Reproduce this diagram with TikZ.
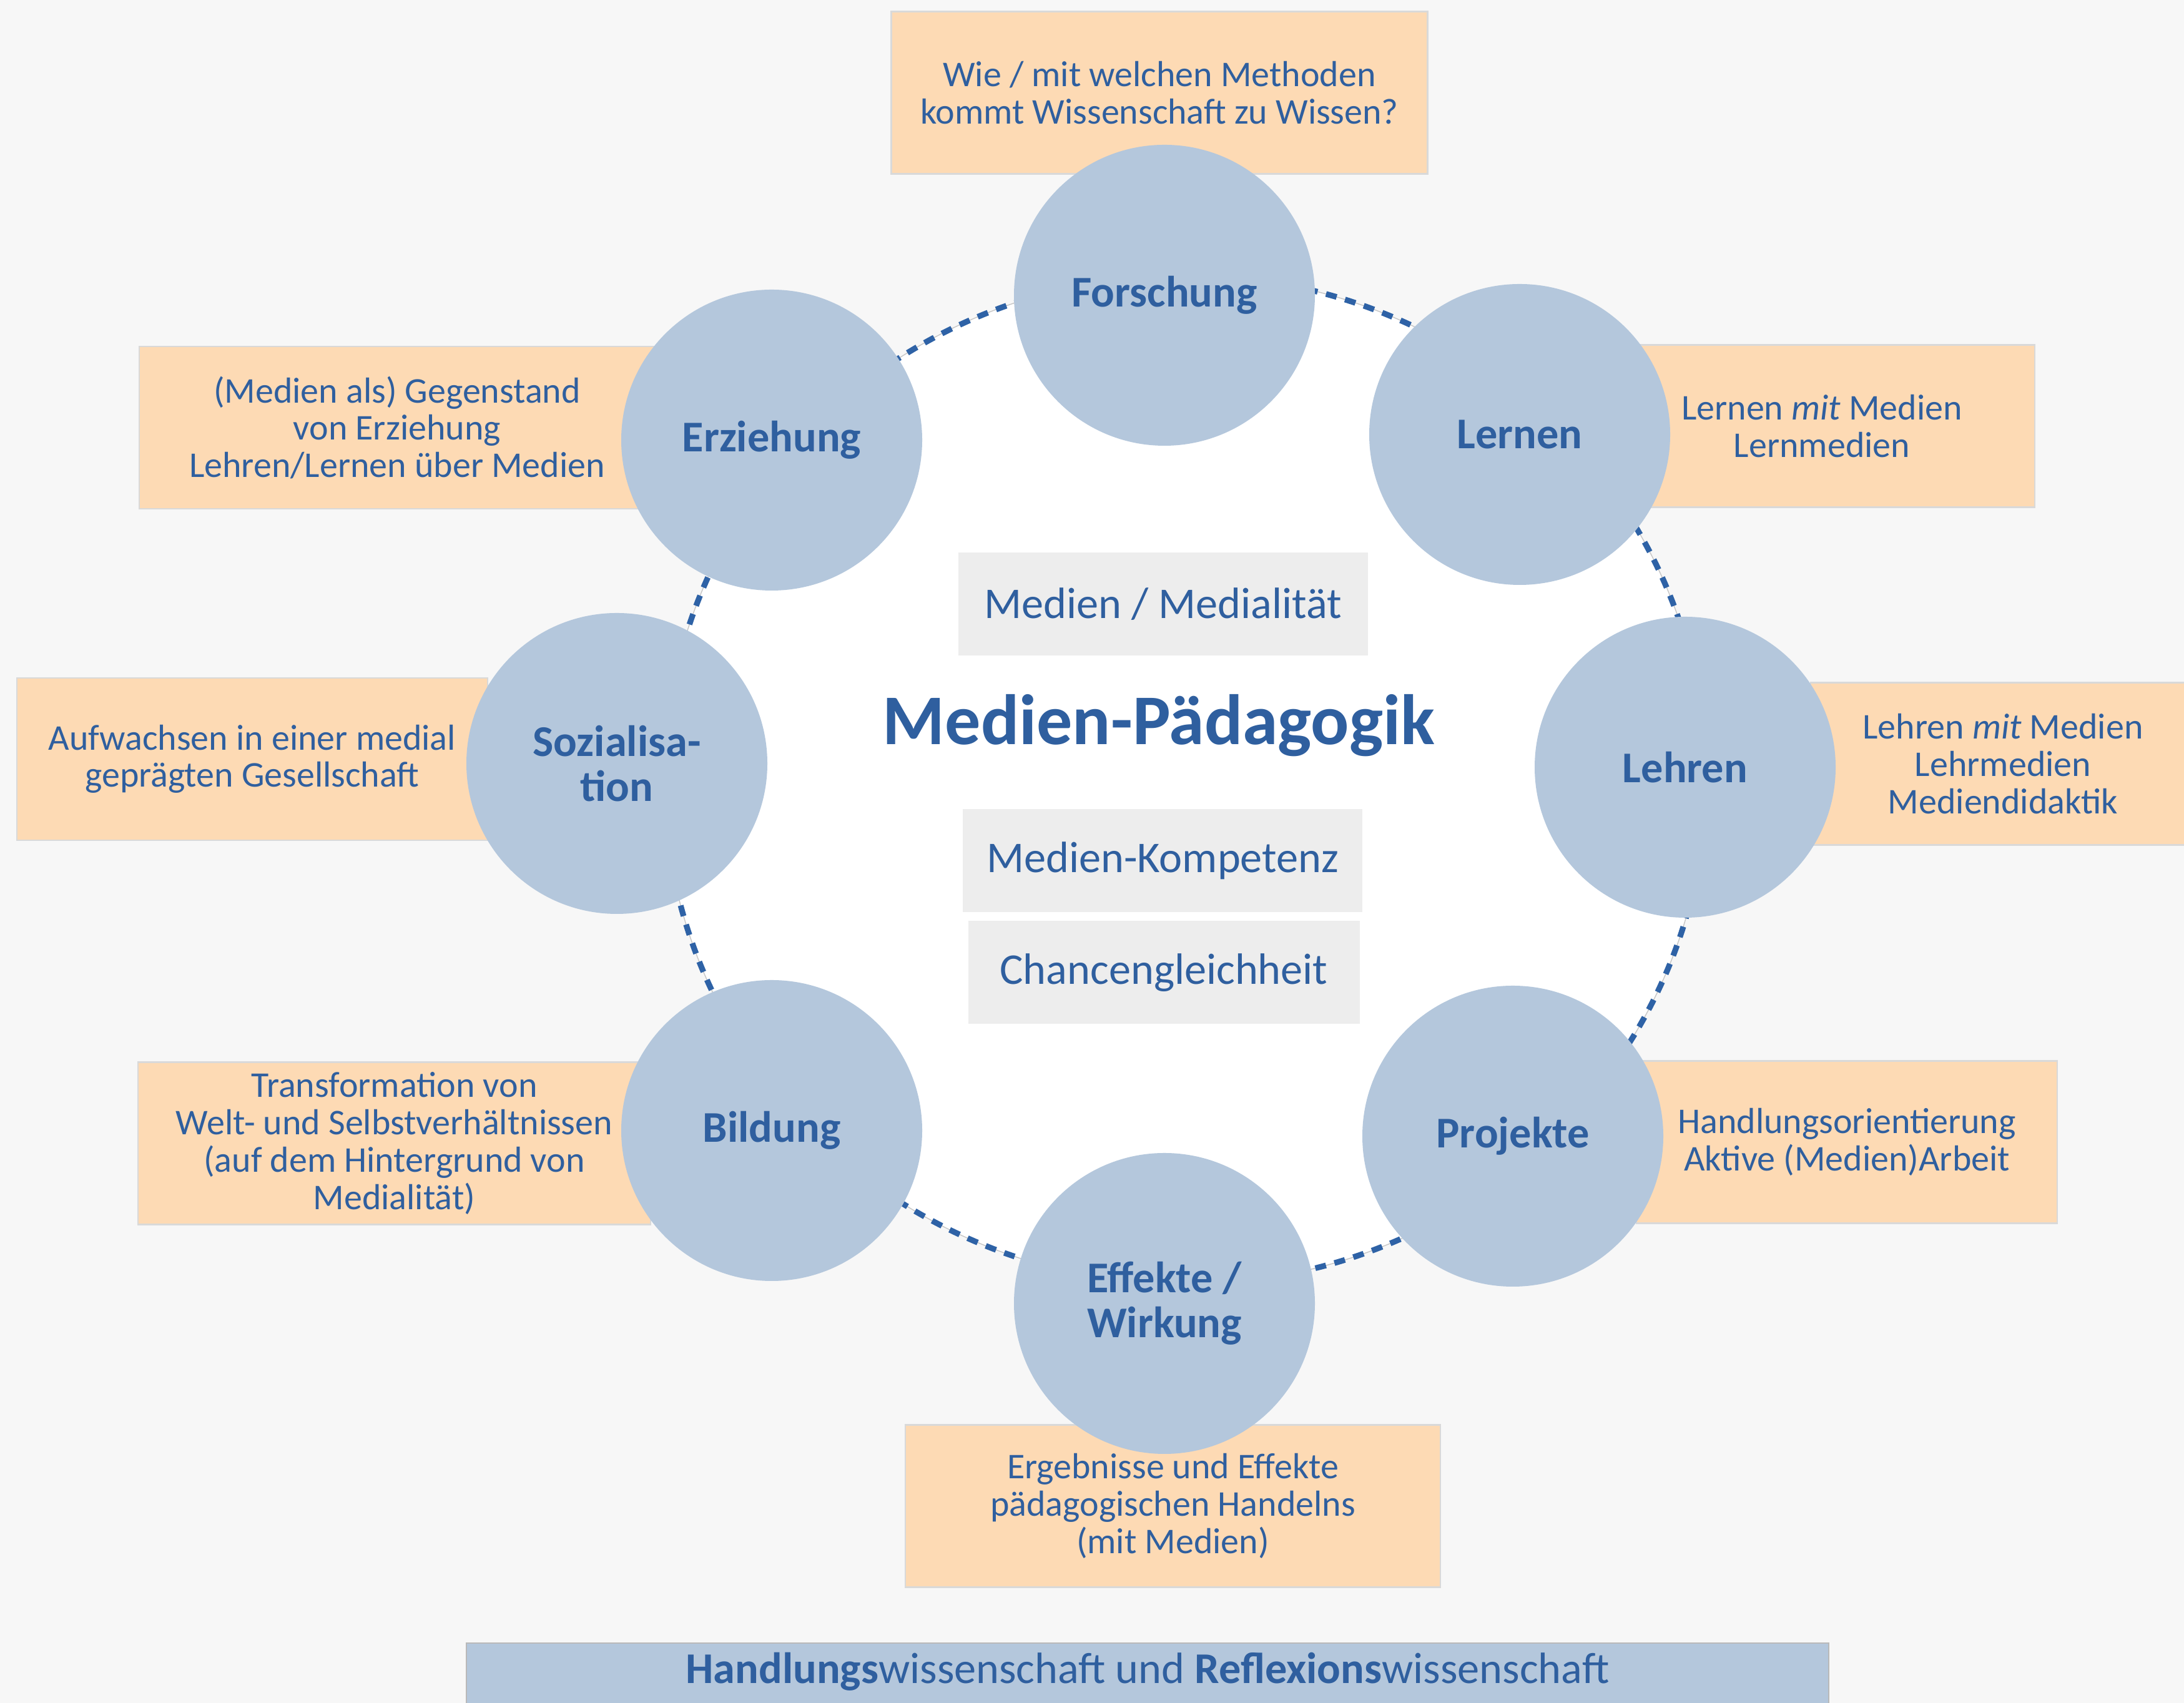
\documentclass[tikz,border=0pt]{standalone}
\usepackage{fontspec}
\setmainfont{Carlito}
\definecolor{seite}{HTML}{F7F7F7}
\definecolor{ringblau}{HTML}{2E62A6}
\definecolor{kreisblau}{HTML}{B4C7DC}
\definecolor{schrift}{HTML}{2F5F9F}
\definecolor{pfirsich}{HTML}{FDDAB4}
\definecolor{kasten}{HTML}{EDEDED}

\begin{document}
\begin{tikzpicture}[
  kreis/.style={circle,fill=kreisblau,minimum size=4.82cm,inner sep=0pt,align=center,
    text=schrift,font=\bfseries\fontsize{20}{20.5}\selectfont},
  notiz/.style={rectangle,fill=pfirsich,draw=gray!30,line width=0.6pt,inner sep=0pt,
    align=center,text=schrift,font=\fontsize{16.5}{17}\selectfont,minimum height=2.6cm},
  grau/.style={rectangle,fill=kasten,inner sep=0pt,text=schrift,
    font=\fontsize{20}{24}\selectfont,minimum height=1.65cm}
]
\path[use as bounding box,fill=seite] (0,0) rectangle (34.98,27.28);

\node[notiz,minimum width=8.59cm] (nforschung) at (18.57,25.795) {Wie / mit welchen Methoden\\kommt Wissenschaft zu Wissen?};
\node[notiz,minimum width=8.26cm] (nerziehung) at (6.36,20.43) {(Medien als) Gegenstand\\von Erziehung\\Lehren/Lernen über Medien};
\node[notiz,minimum width=6.82cm] (nlernen) at (29.18,20.455) {Lernen \textit{mit} Medien\\Lernmedien};
\node[notiz,minimum width=7.54cm] (nsozial) at (4.04,15.12) {Aufwachsen in einer medial\\geprägten Gesellschaft};
\node[notiz,minimum width=6.16cm] (nlehren) at (32.08,15.045) {Lehren \textit{mit} Medien\\Lehrmedien\\Mediendidaktik};
\node[notiz,minimum width=8.21cm] (nbildung) at (6.315,8.965) {Transformation von\\Welt- und Selbstverhältnissen\\(auf dem Hintergrund von\\Medialität)};
\node[notiz,minimum width=6.74cm] (nprojekte) at (29.58,8.985) {Handlungsorientierung\\Aktive (Medien)Arbeit};
\node[notiz,minimum width=8.57cm] (neffekte) at (18.785,3.155) {Ergebnisse und Effekte\\pädagogischen Handelns\\(mit Medien)};

\fill[white] (18.98,14.79) ellipse [x radius=8.34cm,y radius=8.08cm];
\draw[gray!45,line width=0.4pt] (18.98,14.79) ellipse [x radius=8.34cm,y radius=8.08cm];
\draw[ringblau,line width=2.6pt,dash pattern=on 5pt off 4pt] (18.98,14.79) ellipse [x radius=8.34cm,y radius=8.08cm];

\node[kreis] (forschung) at (18.65,22.55) {Forschung};
\node[kreis] (lernen) at (24.34,20.32) {Lernen};
\node[kreis] (lehren) at (26.99,14.99) {Lehren};
\node[kreis] (projekte) at (24.23,9.08) {Projekte};
\node[kreis] (effekte) at (18.65,6.40) {Effekte /\\Wirkung};
\node[kreis] (bildung) at (12.36,9.17) {Bildung};
\node[kreis] (sozial) at (9.88,15.05) {Sozialisa-\\tion};
\node[kreis] (erziehung) at (12.36,20.23) {Erziehung};

\node[grau,minimum width=6.56cm] (medialitaet) at (18.63,17.60) {Medien / Medialität};
\node[text=schrift,font=\bfseries\fontsize{32.5}{36}\selectfont] (titel) at (18.56,15.66) {Medien-Pädagogik};
\node[grau,minimum width=6.40cm] (kompetenz) at (18.62,13.49) {Medien-Kompetenz};
\node[grau,minimum width=6.27cm] (chancen) at (18.64,11.70) {Chancengleichheit};

\node[rectangle,fill=kreisblau,draw=gray!55,line width=0.6pt,minimum width=21.82cm,minimum height=1.5cm,inner sep=0pt] (basis) at (18.38,0.21) {};
\node[text=schrift,font=\fontsize{20}{24}\selectfont] (basistext) at (18.38,0.50) {\textbf{Handlungs}wissenschaft und \textbf{Reflexions}wissenschaft};
\end{tikzpicture}
\end{document}
